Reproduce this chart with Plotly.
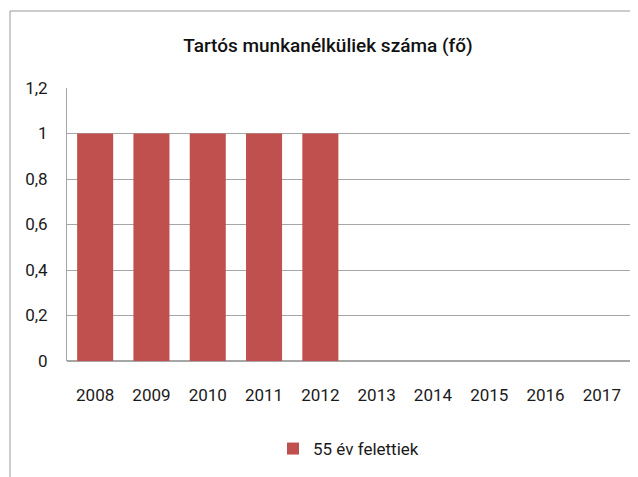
import plotly.graph_objects as go

years = ["2008", "2009", "2010", "2011", "2012", "2013", "2014", "2015", "2016", "2017"]
values = [1, 1, 1, 1, 1, 0, 0, 0, 0, 0]
series_name = "55 év felettiek"
title_text = "Tartós munkanélküliek száma (fő)"
y_ticks = [0, 0.2, 0.4, 0.6, 0.8, 1.0, 1.2]

FONT = "Roboto, Open Sans, sans-serif"
OFF = 8  # page body margin
W, H = 638 - OFF, 477 - OFF
L, R, T, B = 67 - OFF, 8, 88 - OFF, 477 - 361
pw = W - L - R
ph = H - T - B

fig = go.Figure()
fig.add_trace(go.Bar(x=years, y=values, name=series_name, marker_color="#C0504D",
                     marker_line_width=0))

fig.update_layout(
    width=W, height=H,
    margin=dict(l=L, r=R, t=T, b=B, pad=0),
    paper_bgcolor="white", plot_bgcolor="white",
    separators=", ",
    font=dict(family=FONT, size=17, color="#1a1a1a"),
    title=dict(text=title_text, x=(328 - OFF) / W, xanchor="center", xref="container",
               y=1 - (45 - OFF) / H, yanchor="middle", yref="container",
               font=dict(family=FONT, size=19, color="#111111", weight=500)),
    bargap=0.36,
    showlegend=True,
    legend=dict(orientation="h", x=0.5, xanchor="center",
                y=-(449 - 361) / ph, yanchor="middle", font=dict(size=17), itemwidth=30),
    xaxis=dict(showgrid=False, showline=False, ticks="", tickfont=dict(size=17),
               ticklabelstandoff=22),
    yaxis=dict(range=[0, 1.2], tickvals=y_ticks, showgrid=True, gridcolor="#A6A6A6",
               gridwidth=1, zeroline=True, zerolinecolor="#A6A6A6", showline=True,
               linecolor="#A6A6A6", ticks="", tickfont=dict(size=17),
               ticklabelstandoff=15),
)

# chart frame (top and left edges visible in the reference)
fx = (10 - 67) / pw
fy = (361 - 11) / ph
fig.add_shape(type="line", xref="paper", yref="paper",
              x0=fx, x1=(W + 5 - L) / pw, y0=fy, y1=fy,
              line=dict(color="#9A9A9A", width=1))
fig.add_shape(type="line", xref="paper", yref="paper",
              x0=fx, x1=fx, y0=fy, y1=(-5 - B) / ph,
              line=dict(color="#9A9A9A", width=1))

fig.write_html("out.html")
